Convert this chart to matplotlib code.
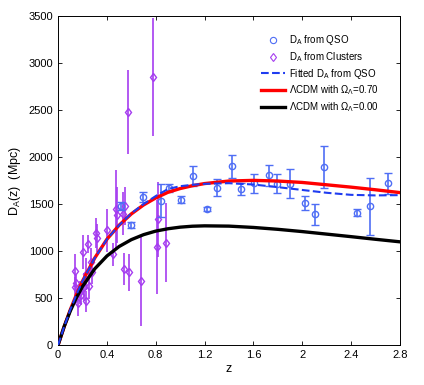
import numpy as np
import matplotlib
matplotlib.use('Agg')
import matplotlib.pyplot as plt
from matplotlib.lines import Line2D

plt.rcParams['font.family'] = ['Liberation Sans', 'DejaVu Sans']
plt.rcParams['mathtext.fontset'] = 'custom'
plt.rcParams['mathtext.rm'] = 'Liberation Sans'
plt.rcParams['mathtext.it'] = 'Liberation Sans'

# D_A from QSO (z, D_A, error)
qso_z = [0.514, 0.595, 0.695, 0.843, 0.909, 1.007, 1.108, 1.216, 1.299, 1.423, 1.497,
         1.609, 1.732, 1.795, 1.898, 2.019, 2.103, 2.177, 2.445, 2.554, 2.704]
qso_d = [1481, 1278, 1575, 1537, 1670, 1548, 1800, 1446, 1672, 1902, 1661,
         1722, 1807, 1715, 1718, 1512, 1390, 1895, 1408, 1474, 1722]
qso_err = [45, 30, 50, 180, 45, 35, 110, 25, 90, 120, 65,
           100, 110, 100, 150, 75, 110, 220, 35, 300, 110]

# D_A from clusters
cl_z = [0.137, 0.142, 0.150, 0.165, 0.180, 0.191, 0.205, 0.215, 0.225, 0.232,
        0.245, 0.250, 0.268, 0.280, 0.310, 0.320, 0.404, 0.448, 0.478, 0.486,
        0.535, 0.546, 0.541, 0.576, 0.582, 0.680, 0.778, 0.814, 0.822, 0.881]
cl_d = [790, 614, 660, 443, 560, 532, 990, 620, 760, 465,
        1075, 630, 886, 780, 1195, 1135, 1222, 964, 1442, 1381,
        1399, 1481, 804, 2480, 772, 684, 2852, 1046, 1337, 1088]
cl_err = [175, 110, 90, 140, 120, 110, 180, 150, 170, 110,
          100, 140, 150, 130, 160, 150, 230, 120, 420, 300,
          230, 200, 170, 450, 200, 480, 630, 500, 400, 420]

# model curves
curve_z = [0, 0.05, 0.1, 0.15, 0.2, 0.3, 0.4, 0.5, 0.6, 0.7, 0.8, 0.9, 1.0,
           1.1, 1.2, 1.4, 1.6, 1.8, 2.0, 2.2, 2.4, 2.6, 2.8]
lcdm_070 = [0, 195, 375, 535, 680, 925, 1125, 1275, 1395, 1490, 1565, 1625, 1665,
            1695, 1718, 1745, 1752, 1745, 1730, 1705, 1680, 1652, 1622]
lcdm_000 = [0, 197, 362, 503, 622, 810, 947, 1048, 1121, 1174, 1212, 1237, 1254,
            1264, 1268, 1265, 1251, 1231, 1207, 1180, 1153, 1125, 1098]
fit_qso = [0, 195, 375, 535, 680, 925, 1125, 1275, 1400, 1500, 1585, 1660, 1690,
           1705, 1715, 1722, 1708, 1680, 1650, 1620, 1598, 1592, 1595]

fig = plt.figure(figsize=(4.24, 3.85), dpi=100)
ax = fig.add_axes([0.137, 0.104, 0.806, 0.854])

qcol = '#4f6ef5'
ccol = '#a53cf0'

ax.errorbar(qso_z, qso_d, yerr=qso_err, fmt='o', color=qcol, mfc='none', ms=4.5,
            mew=1.0, elinewidth=1.2, capsize=3, capthick=1.0, zorder=3)
ax.errorbar(cl_z, cl_d, yerr=cl_err, fmt='d', color=ccol, mfc='none', ms=4.5,
            mew=1.0, elinewidth=1.2, capsize=0, zorder=2)
ax.plot(curve_z, fit_qso, '--', color='#1f3cf0', lw=1.5, zorder=5)
ax.plot(curve_z, lcdm_070, '-', color='#ff0000', lw=2.4, zorder=4)
ax.plot(curve_z, lcdm_000, '-', color='black', lw=2.4, zorder=4)

ax.set_xlim(0, 2.8)
ax.set_ylim(0, 3500)
ax.set_xticks([0, 0.4, 0.8, 1.2, 1.6, 2, 2.4, 2.8])
ax.set_xticklabels(['0', '0.4', '0.8', '1.2', '1.6', '2', '2.4', '2.8'])
ax.set_yticks(np.arange(0, 3501, 500))
ax.tick_params(direction='in', top=True, right=True, labelsize=8, length=3, width=0.6)
for s in ax.spines.values():
    s.set_linewidth(0.7)
ax.set_xlabel('z', fontsize=9, labelpad=2)
ax.set_ylabel(r'D$_\mathrm{A}$(z)  (Mpc)', fontsize=9, labelpad=4)

handles = [
    Line2D([], [], ls='none', marker='o', color=qcol, mfc='none', ms=4.5, mew=0.8),
    Line2D([], [], ls='none', marker='d', color=ccol, mfc='none', ms=4.5, mew=0.8),
    Line2D([], [], ls='--', color='#1f3cf0', lw=1.5),
    Line2D([], [], ls='-', color='#ff0000', lw=2.4),
    Line2D([], [], ls='-', color='black', lw=2.4),
]
labels = [r'D$_\mathrm{A}$ from QSO', r'D$_\mathrm{A}$ from Clusters',
          r'Fitted D$_\mathrm{A}$ from QSO',
          r'$\Lambda$CDM with $\Omega_\Lambda$=0.70',
          r'$\Lambda$CDM with $\Omega_\Lambda$=0.00']
ax.legend(handles, labels, loc='upper right', bbox_to_anchor=(0.965, 0.975), frameon=False,
          fontsize=7, handlelength=2.5, labelspacing=0.3, handletextpad=0.4)

fig.savefig('out.png', dpi=100)
